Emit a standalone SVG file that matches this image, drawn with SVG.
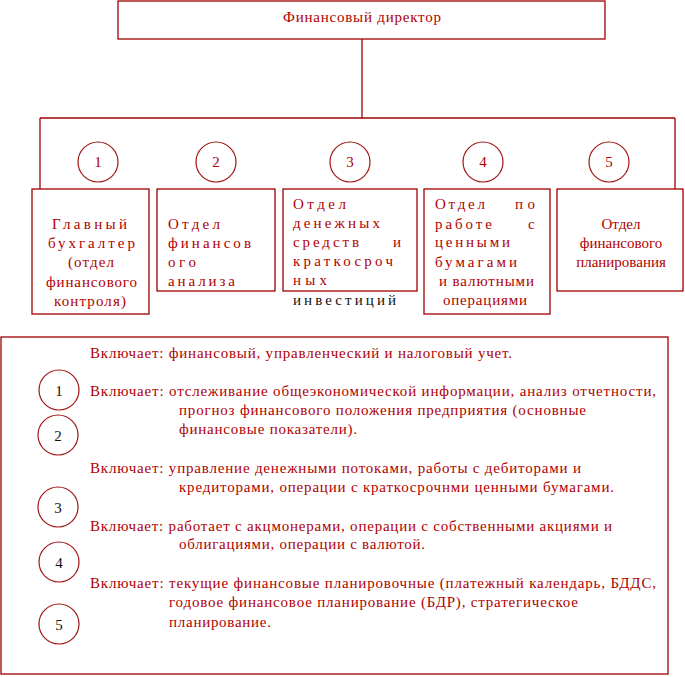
<svg xmlns="http://www.w3.org/2000/svg" width="685" height="677" viewBox="0 0 685 677">
<style>
.box{fill:#fff;stroke:#a00000;stroke-width:1.3}
.ln{fill:none;stroke:#a00000;stroke-width:1.3}
.cir{fill:#fff;stroke:#a01414;stroke-width:1.2}
text{font-family:'Liberation Serif','Times New Roman',serif}
.t{font-size:15px;fill:#b00000}
.tb{font-size:15px;fill:#b00000}
.k{fill:#111}
.m{text-anchor:middle}
.n{font-size:15px;text-anchor:middle}
</style>
<rect width="685" height="677" fill="#fff"/>
<g id="connectors">
<line class="ln" x1="362" y1="39" x2="362" y2="118"/>
<line class="ln" x1="40" y1="118" x2="675" y2="118"/>
<line class="ln" x1="40" y1="118" x2="40" y2="189"/>
<line class="ln" x1="675" y1="118" x2="675" y2="189"/>
</g>
<g id="director">
<rect class="box" x="118" y="1" width="487" height="38"/>
<text class="t" x="283" y="22" textLength="158">Финансовый директор</text>
</g>
<g id="c1"><circle class="cir" cx="98" cy="162" r="20"/><text class="n" x="98" y="167" fill="#b00000">1</text></g>
<g id="c2"><circle class="cir" cx="216" cy="162" r="20"/><text class="n" x="216" y="167" fill="#b00000">2</text></g>
<g id="c3"><circle class="cir" cx="350" cy="162" r="20"/><text class="n" x="350" y="167" fill="#b00000">3</text></g>
<g id="c4"><circle class="cir" cx="483" cy="162" r="20"/><text class="n" x="483" y="167" fill="#b00000">4</text></g>
<g id="c5"><circle class="cir" cx="609" cy="162" r="20"/><text class="n" x="609" y="167" fill="#b00000">5</text></g>
<g id="dept1">
<rect class="box" x="32" y="189" width="117" height="125"/>
<text class="tb" x="52" y="229" textLength="75">Главный</text>
<text class="tb" x="48" y="248" textLength="87">бухгалтер</text>
<text class="tb" x="68" y="267" textLength="46">(отдел</text>
<text class="tb" x="46" y="287" textLength="91">финансового</text>
<text class="tb" x="54" y="306" textLength="72">контроля)</text>
</g>
<g id="dept2">
<rect class="box" x="157" y="189" width="118" height="102"/>
<text class="tb" x="168" y="229" textLength="52">Отдел</text>
<text class="tb" x="168" y="248" textLength="83">финансов</text>
<text class="tb" x="168" y="267" textLength="28">ого</text>
<text class="tb" x="168" y="286" textLength="67">анализа</text>
</g>
<g id="dept3">
<rect class="box" x="283" y="189" width="134" height="102"/>
<text class="tb" x="293" y="209" textLength="53">Отдел</text>
<text class="tb" x="293" y="228" textLength="87">денежных</text>
<text class="tb" x="293" y="247" textLength="66">средств</text>
<text class="tb" x="393" y="247">и</text>
<text class="tb" x="293" y="266" textLength="100">краткосроч</text>
<text class="tb" x="293" y="285" textLength="34">ных</text>
<text class="tb k" x="293" y="305" textLength="103">инвестиций</text>
</g>
<g id="dept4">
<rect class="box" x="424" y="189" width="126" height="125"/>
<text class="tb" x="435" y="209" textLength="50">Отдел</text>
<text class="tb" x="515" y="209" textLength="20">по</text>
<text class="tb" x="435" y="229" textLength="57">работе</text>
<text class="tb" x="528" y="229">с</text>
<text class="tb" x="435" y="247" textLength="75">ценными</text>
<text class="tb" x="435" y="267" textLength="82">бумагами</text>
<text class="tb" x="439" y="286" textLength="95">и валютными</text>
<text class="tb" x="443" y="305" textLength="84">операциями</text>
</g>
<g id="dept5">
<rect class="box" x="557" y="189" width="126" height="102"/>
<text class="tb m" x="621" y="229">Отдел</text>
<text class="tb m" x="621" y="248">финансового</text>
<text class="tb m" x="621" y="267">планирования</text>
</g>
<g id="legend">
<rect class="box" x="1" y="337" width="667" height="337"/>
<circle class="cir" cx="59" cy="390" r="20"/><text class="n k" x="59" y="396">1</text>
<circle class="cir" cx="58" cy="435" r="20"/><text class="n k" x="58" y="441">2</text>
<circle class="cir" cx="58" cy="507" r="20"/><text class="n k" x="58" y="513">3</text>
<circle class="cir" cx="59" cy="562" r="20"/><text class="n k" x="59" y="568">4</text>
<circle class="cir" cx="59" cy="624" r="20"/><text class="n k" x="59" y="630">5</text>
<text class="t" x="90" y="358" textLength="422">Включает: финансовый, управленческий и налоговый учет.</text>
<text class="t" x="90" y="396" textLength="566">Включает: отслеживание общеэкономической информации, анализ отчетности,</text>
<text class="t" x="179" y="415" textLength="407">прогноз финансового положения предприятия (основные</text>
<text class="t" x="179" y="434" textLength="178">финансовые показатели).</text>
<text class="t" x="90" y="473" textLength="491">Включает: управление денежными потоками, работы с дебиторами и</text>
<text class="t" x="179" y="492" textLength="435">кредиторами, операции с краткосрочнми ценными бумагами.</text>
<text class="t" x="90" y="531" textLength="522">Включает: работает с акцмонерами, операции с собственными акциями и</text>
<text class="t" x="179" y="549" textLength="246">облигациями, операции с валютой.</text>
<text class="t" x="90" y="588" textLength="566">Включает: текущие финансовые планировочные (платежный календарь, БДДС,</text>
<text class="t" x="169" y="607" textLength="409">годовое финансовое планирование (БДР), стратегическое</text>
<text class="t" x="169" y="627" textLength="102">планирование.</text>
</g>
</svg>
